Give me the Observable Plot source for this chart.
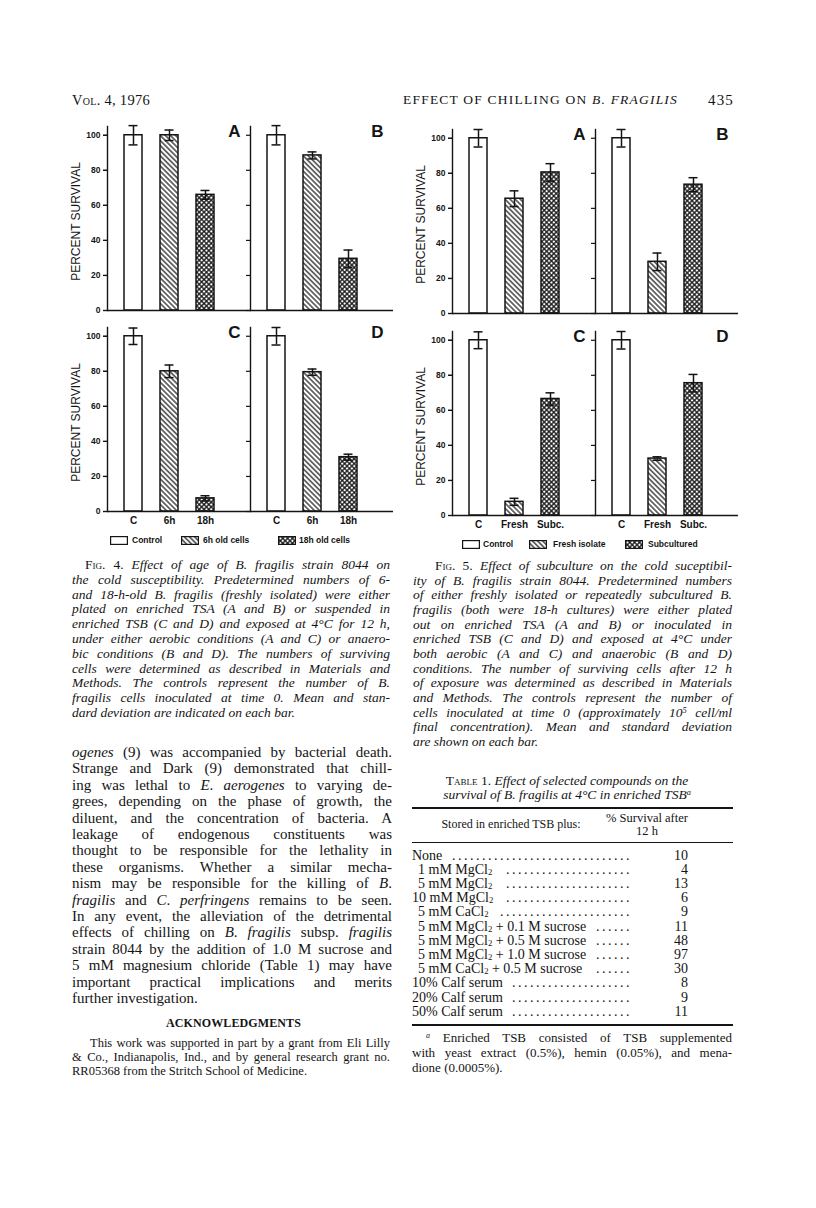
<!DOCTYPE html>
<html><head><meta charset="utf-8">
<script src="https://cdn.jsdelivr.net/npm/d3@7"></script>
<script src="https://cdn.jsdelivr.net/npm/@observablehq/plot@0.6"></script>
<style>
body{margin:0;background:#fff;}
#page{position:relative;width:816px;height:1208px;overflow:hidden;background:#fff;color:#141414;font-family:"Liberation Serif","DejaVu Serif",serif;}
.ln{position:absolute;white-space:nowrap;}
.sc{font-variant:small-caps;font-style:normal;}
sub{font-size:0.62em;vertical-align:-0.12em;line-height:0;}
sup{font-size:0.62em;vertical-align:0.45em;line-height:0;}
.rule{position:absolute;background:#141414;}
.leg{position:absolute;font-family:"Liberation Sans",Arial,sans-serif;font-weight:bold;font-size:8.5px;white-space:nowrap;}
.sw{position:absolute;}
.tlab{position:absolute;white-space:nowrap;font-size:14px;line-height:13px;}
.dots{position:absolute;white-space:nowrap;font-size:14px;line-height:13px;letter-spacing:2.5px;}
.val{position:absolute;text-align:right;font-size:14px;line-height:13px;}
</style></head>
<body>
<svg width="0" height="0" style="position:absolute">
<defs>
<pattern id="hatch" patternUnits="userSpaceOnUse" width="3.6" height="3.6" patternTransform="rotate(-45)">
<rect width="3.6" height="3.6" fill="#fff"/>
<line x1="1.8" y1="0" x2="1.8" y2="3.6" stroke="#141414" stroke-width="1.2"/>
</pattern>
<pattern id="xhatch" patternUnits="userSpaceOnUse" width="3.4" height="3.4" patternTransform="rotate(45)">
<rect width="3.4" height="3.4" fill="#fff"/>
<path d="M1.7 0V3.4M0 1.7H3.4" stroke="#141414" stroke-width="1.3"/>
</pattern>
</defs>
</svg>
<div id="page"></div>
<script>
// ---------------- DATA ----------------
const yTicks = [0, 20, 40, 60, 80, 100];

const fig4Categories = ["C", "6h", "18h"];
const fig4LegendLabels = ["Control", "6h old cells", "18h old cells"];
const fig4PanelsTop = ["A", "B"];
const fig4PanelsBottom = ["C", "D"];
const fig4A_mean = [100, 100, 66];
const fig4A_sd   = [5.5, 3, 2.5];
const fig4B_mean = [100, 88.5, 29.5];
const fig4B_sd   = [5.5, 2, 5];
const fig4C_mean = [100, 80, 7.5];
const fig4C_sd   = [4.7, 3.6, 1.5];
const fig4D_mean = [100, 79.5, 31];
const fig4D_sd   = [5, 1.8, 1.7];

const fig5Categories = ["C", "Fresh", "Subc."];
const fig5LegendLabels = ["Control", "Fresh isolate", "Subcultured"];
const fig5PanelsTop = ["A", "B"];
const fig5PanelsBottom = ["C", "D"];
const fig5A_mean = [100, 65.5, 80.5];
const fig5A_sd   = [5, 4.5, 5];
const fig5B_mean = [100, 29.5, 73.5];
const fig5B_sd   = [5, 5, 4];
const fig5C_mean = [100, 7.8, 66.5];
const fig5C_sd   = [4.8, 2, 3.5];
const fig5D_mean = [100, 32.5, 75.5];
const fig5D_sd   = [5, 1, 5];

const tableCompounds = ["None", "1 mM MgCl2", "5 mM MgCl2", "10 mM MgCl2", "5 mM CaCl2",
  "5 mM MgCl2 + 0.1 M sucrose", "5 mM MgCl2 + 0.5 M sucrose", "5 mM MgCl2 + 1.0 M sucrose",
  "5 mM CaCl2 + 0.5 M sucrose", "10% Calf serum", "20% Calf serum", "50% Calf serum"];
const tableSurvival = [10, 4, 13, 6, 9, 11, 48, 97, 30, 8, 9, 11];

// ---------------- HELPERS ----------------
const INK = "#141414";
const page = document.getElementById("page");
const patternFills = ["#fff", "url(#hatch)", "url(#xhatch)"];

function makeRow({panels, means, sds, cats, showX, left, top}) {
  const data = [];
  panels.forEach((p, i) => cats.forEach((c, k) => data.push({panel: p, cat: c, k, mean: means[i][k], sd: sds[i][k]})));
  const marks = [
    Plot.frame({anchor: "left", stroke: INK, strokeWidth: 1.4}),
    Plot.axisY({ticks: yTicks, facetAnchor: null, tickSize: 4, tickFormat: () => "", label: null, stroke: INK, strokeWidth: 1.2}),
    Plot.axisY({ticks: yTicks, facetAnchor: "left", tickSize: 4, tickPadding: 3, label: null, fontSize: 8.5, fontWeight: "bold", stroke: INK, strokeWidth: 1.2}),
    ...patternFills.map((f, k) => Plot.barY(data.filter(d => d.k === k), {fx: "panel", x: "cat", y: "mean", fill: f, stroke: INK, strokeWidth: 1.5})),
    Plot.ruleX(data, {fx: "panel", x: "cat", y1: d => d.mean - d.sd, y2: d => d.mean + d.sd, stroke: INK, strokeWidth: 1.5}),
    Plot.tickY(data, {fx: "panel", x: "cat", y: d => d.mean + d.sd, insetLeft: 4.5, insetRight: 4.5, stroke: INK, strokeWidth: 1.5}),
    Plot.tickY(data, {fx: "panel", x: "cat", y: d => d.mean - d.sd, insetLeft: 4.5, insetRight: 4.5, stroke: INK, strokeWidth: 1.5}),
    Plot.ruleY([0], {stroke: INK, strokeWidth: 1.5}),
    Plot.text(panels.map(p => ({panel: p})), {fx: "panel", text: "panel", frameAnchor: "top-right", textAnchor: "end", lineAnchor: "top", dx: -10, dy: -2, fontSize: 17, fontWeight: "bold", fill: INK}),
    Plot.text([{panel: panels[0]}], {fx: "panel", text: () => "PERCENT SURVIVAL", frameAnchor: "left", textAnchor: "middle", lineAnchor: "middle", rotate: -90, dx: -31, dy: 3, fontSize: 12, fontWeight: "normal", fill: INK})
  ];
  if (showX) marks.push(Plot.axisX({tickSize: 0, tickPadding: 5, fontSize: 10, fontWeight: "bold", label: null, fill: INK}));
  const svg = Plot.plot({
    width: 336,
    height: showX ? 218 : 198,
    marginLeft: 40, marginRight: 10, marginTop: 10, marginBottom: showX ? 24 : 4,
    fx: {domain: panels, padding: 0, axis: null, label: null},
    x: {domain: cats, paddingInner: 0.5, paddingOuter: 0.736, align: 0.32, axis: showX ? undefined : null, label: null},
    y: {domain: [0, 105], label: null},
    style: {fontFamily: "'Liberation Sans', Arial, sans-serif", fontWeight: "bold", background: "transparent", overflow: "visible", color: INK},
    marks
  });
  svg.style.position = "absolute";
  svg.style.left = left + "px";
  svg.style.top = top + "px";
  page.appendChild(svg);
}

function legend(labels, items, y) {
  labels.forEach((lab, k) => {
    const [bx, tx] = items[k];
    const s = document.createElementNS("http://www.w3.org/2000/svg", "svg");
    s.setAttribute("width", 18); s.setAttribute("height", 9);
    s.setAttribute("class", "sw");
    s.style.left = bx + "px"; s.style.top = (y - 4.5) + "px";
    const r = document.createElementNS("http://www.w3.org/2000/svg", "rect");
    r.setAttribute("x", 0.6); r.setAttribute("y", 0.6); r.setAttribute("width", 16.8); r.setAttribute("height", 7.8);
    r.setAttribute("fill", patternFills[k]); r.setAttribute("stroke", INK); r.setAttribute("stroke-width", 1.2);
    s.appendChild(r); page.appendChild(s);
    const t = document.createElement("div");
    t.className = "leg"; t.textContent = lab;
    t.style.left = tx + "px"; t.style.top = (y - 6) + "px"; t.style.lineHeight = "12px";
    page.appendChild(t);
  });
}

// mode: "j" justify to width w, "l" left, "c" centred at x, "f" fit letter-spacing to width w
function addLine(html, x, y, w, fs, mode, extraStyle) {
  const d = document.createElement("div");
  d.className = "ln";
  d.innerHTML = html;
  const lh = Math.round(fs * 1.2);
  d.style.fontSize = fs + "px";
  d.style.lineHeight = lh + "px";
  d.style.top = (y - lh / 2) + "px";
  if (extraStyle) Object.assign(d.style, extraStyle);
  page.appendChild(d);
  const nat = d.getBoundingClientRect().width;
  if (mode === "c") d.style.left = (x - nat / 2) + "px";
  else d.style.left = x + "px";
  if (mode === "j") {
    const n = (d.textContent.match(/ /g) || []).length;
    if (n) d.style.wordSpacing = ((w - nat) / n) + "px";
  } else if (mode === "f") {
    const n = d.textContent.length;
    d.style.letterSpacing = ((w - nat) / n) + "px";
  }
  return d;
}

function paragraph(lines, x, y0, step, w, fs, firstIndent, italic) {
  lines.forEach((l, i) => {
    const last = i === lines.length - 1;
    const ind = i === 0 ? firstIndent : 0;
    addLine(l, x + ind, y0 + i * step, w - ind, fs, last ? "l" : "j", italic ? {fontStyle: "italic"} : null);
  });
}

// ---------------- CHARTS ----------------
makeRow({panels: fig4PanelsTop, means: [fig4A_mean, fig4B_mean], sds: [fig4A_sd, fig4B_sd], cats: fig4Categories, showX: false, left: 67, top: 116});
makeRow({panels: fig4PanelsBottom, means: [fig4C_mean, fig4D_mean], sds: [fig4C_sd, fig4D_sd], cats: fig4Categories, showX: true, left: 67, top: 317});
makeRow({panels: fig5PanelsTop, means: [fig5A_mean, fig5B_mean], sds: [fig5A_sd, fig5B_sd], cats: fig5Categories, showX: false, left: 412, top: 119});
makeRow({panels: fig5PanelsBottom, means: [fig5C_mean, fig5D_mean], sds: [fig5C_sd, fig5D_sd], cats: fig5Categories, showX: true, left: 412, top: 321});

legend(fig4LegendLabels, [[110, 132], [181, 203], [278, 299]], 540);
legend(fig5LegendLabels, [[462, 483], [529, 553], [625, 648]], 544);

// ---------------- RUNNING HEAD ----------------
addLine('<span class="sc">Vol.</span> 4, 1976', 72, 100, 78, 14.5, "f");
addLine('EFFECT OF CHILLING ON <i>B. FRAGILIS</i>', 403, 100, 275, 13.5, "f");
addLine('435', 708, 100, 26, 15, "f");

// ---------------- CAPTIONS ----------------
paragraph([
  '<span class="sc">Fig</span><span style="font-style:normal">. 4.</span> Effect of age of B. fragilis strain 8044 on',
  'the cold susceptibility. Predetermined numbers of 6-',
  'and 18-h-old B. fragilis (freshly isolated) were either',
  'plated on enriched TSA (A and B) or suspended in',
  'enriched TSB (C and D) and exposed at 4°C for 12 h,',
  'under either aerobic conditions (A and C) or anaero-',
  'bic conditions (B and D). The numbers of surviving',
  'cells were determined as described in Materials and',
  'Methods. The controls represent the number of B.',
  'fragilis cells inoculated at time 0. Mean and stan-',
  'dard deviation are indicated on each bar.'
], 72, 565, 14.8, 318, 13.5, 13, true);

paragraph([
  '<span class="sc">Fig</span><span style="font-style:normal">. 5.</span> Effect of subculture on the cold suceptibil-',
  'ity of B. fragilis strain 8044. Predetermined numbers',
  'of either freshly isolated or repeatedly subcultured B.',
  'fragilis (both were 18-h cultures) were either plated',
  'out on enriched TSA (A and B) or inoculated in',
  'enriched TSB (C and D) and exposed at 4°C under',
  'both aerobic (A and C) and anaerobic (B and D)',
  'conditions. The number of surviving cells after 12 h',
  'of exposure was determined as described in Materials',
  'and Methods. The controls represent the number of',
  'cells inoculated at time 0 (approximately 10<sup>5</sup> cell/ml',
  'final concentration). Mean and standard deviation',
  'are shown on each bar.'
], 413, 566, 14.67, 319, 13.5, 22, true);

// ---------------- BODY TEXT ----------------
paragraph([
  '<i>ogenes</i> (9) was accompanied by bacterial death.',
  'Strange and Dark (9) demonstrated that chill-',
  'ing was lethal to <i>E</i>. <i>aerogenes</i> to varying de-',
  'grees, depending on the phase of growth, the',
  'diluent, and the concentration of bacteria. A',
  'leakage of endogenous constituents was',
  'thought to be responsible for the lethality in',
  'these organisms. Whether a similar mecha-',
  'nism may be responsible for the killing of <i>B</i>.',
  '<i>fragilis</i> and <i>C</i>. <i>perfringens</i> remains to be seen.',
  'In any event, the alleviation of the detrimental',
  'effects of chilling on <i>B</i>. <i>fragilis</i> subsp. <i>fragilis</i>',
  'strain 8044 by the addition of 1.0 M sucrose and',
  '5 mM magnesium chloride (Table 1) may have',
  'important practical implications and merits',
  'further investigation.'
], 72, 752, 16.4, 320, 15, 0, false);

addLine('ACKNOWLEDGMENTS', 166, 1023, 135, 12, "f", {fontWeight: "bold"});
paragraph([
  'This work was supported in part by a grant from Eli Lilly',
  '&amp; Co., Indianapolis, Ind., and by general research grant no.',
  'RR05368 from the Stritch School of Medicine.'
], 72, 1043, 14, 318, 12.5, 18, false);

// ---------------- TABLE ----------------
addLine('<span class="sc">Table</span> 1. <i>Effect of selected compounds on the</i>', 567, 781, 0, 13.5, "c");
addLine('<i>survival of B. fragilis at 4°C in enriched TSB<sup>a</sup></i>', 567, 795, 0, 13.5, "c");
function rule(x1, x2, y, h) {
  const r = document.createElement("div");
  r.className = "rule";
  Object.assign(r.style, {left: x1 + "px", width: (x2 - x1) + "px", top: (y - h / 2) + "px", height: h + "px"});
  page.appendChild(r);
}
rule(412, 733, 808, 1.6);
rule(412, 733, 842, 1);
rule(412, 733, 1025, 1.6);
addLine('Stored in enriched TSB plus:', 511, 824, 0, 12, "c");
addLine('% Survival after', 647, 818, 0, 12.5, "c");
addLine('12 h', 647, 831, 0, 12.5, "c");

// measure one leader dot pitch
const probe = document.createElement("span");
probe.className = "dots"; probe.textContent = ".".repeat(10);
page.appendChild(probe);
const dotPitch = probe.getBoundingClientRect().width / 10;
probe.remove();

tableCompounds.forEach((name, i) => {
  const y = 855 + i * 14.2;
  const indent = /^\d\s/.test(name) ? 6 : 0;
  const lab = document.createElement("div");
  lab.className = "tlab";
  lab.innerHTML = name.replace(/Cl2/g, "Cl<sub>2</sub>");
  lab.style.left = (412 + indent) + "px";
  lab.style.top = (y - 6.5) + "px";
  page.appendChild(lab);
  const labEnd = 412 + indent + lab.getBoundingClientRect().width;
  const avail = 632 - labEnd - 8;
  const n = Math.max(0, Math.floor(avail / dotPitch));
  const dots = document.createElement("div");
  dots.className = "dots";
  dots.textContent = ".".repeat(n);
  dots.style.top = (y - 6.5) + "px";
  dots.style.left = (632 - n * dotPitch) + "px";
  page.appendChild(dots);
  const v = document.createElement("div");
  v.className = "val";
  v.textContent = tableSurvival[i];
  v.style.right = (816 - 688) + "px";
  v.style.top = (y - 6.5) + "px";
  page.appendChild(v);
});

paragraph([
  '<sup><i>a</i></sup> Enriched TSB consisted of TSB supplemented',
  'with yeast extract (0.5%), hemin (0.05%), and mena-',
  'dione (0.0005%).'
], 412, 1038, 15, 320, 13, 14, false);
</script>
</body></html>
